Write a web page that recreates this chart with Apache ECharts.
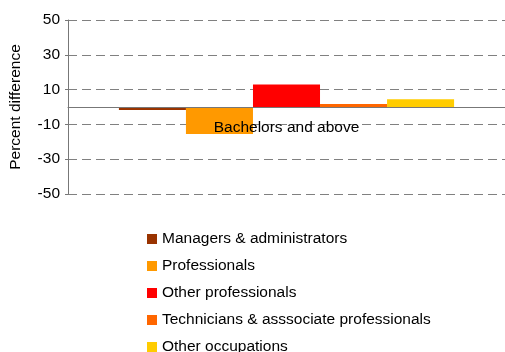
<!DOCTYPE html>
<html>
<head>
<meta charset="utf-8">
<script src="https://cdn.jsdelivr.net/npm/echarts@6/dist/echarts.min.js"></script>
<style>
html,body{margin:0;padding:0;background:#fff;}
#chart{width:505px;height:352px;}
</style>
</head>
<body>
<div id="chart"></div>
<script>
// 数据
var categories = ['Bachelors and above'];
var seriesNames = ['Managers & administrators', 'Professionals', 'Other professionals', 'Technicians & asssociate professionals', 'Other occupations'];
var managers = [-1.7];
var professionals = [-15.5];
var otherProfessionals = [13];
var technicians = [1.7];
var otherOccupations = [4.4];
var colors = ['#993300', '#ff9900', '#ff0000', '#ff6600', '#ffcc00'];

var values = [managers, professionals, otherProfessionals, technicians, otherOccupations];
var font = 'Liberation Sans, Arial, sans-serif';
var fontSize = 15.5;

var mychart = echarts.init(document.getElementById('chart'));
var series = [];
for (var i = 0; i < seriesNames.length; i++) {
    series.push({
        name: seriesNames[i],
        type: 'bar',
        data: values[i],
        barGap: '0%',
        barCategoryGap: '23.3%',
        itemStyle: { color: colors[i] }
    });
}

var option = {
    animation: false,
    color: colors,
    grid: { left: 68, right: -6, top: 20, bottom: 158 },
    legend: {
        orient: 'vertical',
        left: 147,
        top: 231,
        height: 125,
        padding: 0,
        icon: 'rect',
        itemWidth: 10,
        itemHeight: 10,
        itemGap: 11,
        textStyle: { fontFamily: font, fontSize: fontSize, color: '#000' },
        data: seriesNames
    },
    xAxis: {
        type: 'category',
        data: categories,
        z: 5,
        axisLine: { onZero: false, lineStyle: { color: '#777', width: 1 } },
        axisTick: { show: false },
        axisLabel: { margin: 13, fontFamily: font, fontSize: fontSize, color: '#000' }
    },
    yAxis: {
        type: 'value',
        min: -50,
        max: 50,
        interval: 20,
        name: 'Percent difference',
        nameLocation: 'middle',
        nameGap: 44,
        nameTextStyle: { fontFamily: font, fontSize: fontSize, color: '#000' },
        axisLine: { show: true, lineStyle: { color: '#777' } },
        axisTick: { show: true, length: 3, lineStyle: { color: '#777' } },
        axisLabel: { margin: 8, fontFamily: font, fontSize: fontSize, color: '#000' },
        splitLine: { show: true, lineStyle: { color: '#808080', type: [9, 5], width: 1 } }
    },
    series: series
};
mychart.setOption(option);

//把类目轴（连同标签）移到0刻度处
var zeroY = mychart.convertToPixel({ yAxisIndex: 0 }, 0);
var bottomY = mychart.convertToPixel({ yAxisIndex: 0 }, -50);
mychart.setOption({ xAxis: { offset: zeroY - bottomY } });
</script>
</body>
</html>
